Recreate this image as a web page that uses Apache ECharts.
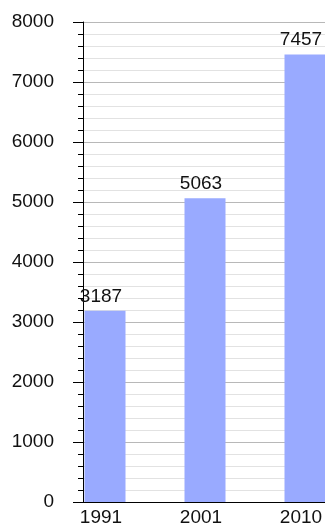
<!DOCTYPE html>
<html>
<head>
<meta charset="utf-8">
<script src="https://cdn.jsdelivr.net/npm/echarts@6/dist/echarts.min.js"></script>
<style>
  html, body { margin: 0; padding: 0; background: #fff; }
  #chart { width: 325px; height: 526px; }
</style>
</head>
<body>
<div id="chart"></div>
<script>
const years = ['1991', '2001', '2010'];
const population = [3187, 5063, 7457];

const font = 'Liberation Sans, Arial, sans-serif';
const chart = echarts.init(document.getElementById('chart'));

const option = {
  animation: false,
  grid: [
    // axis + gridlines
    { left: 83, right: 0, top: 22, bottom: 24, outerBoundsMode: 'none' },
    // bars (bands are 100px wide, shifted so the first bar starts at the axis)
    { left: 55, width: 300, top: 22, bottom: 24, outerBoundsMode: 'none' }
  ],
  xAxis: [
    {
      gridIndex: 0,
      type: 'value',
      min: 0,
      max: 1,
      axisLine: { show: true, lineStyle: { color: '#000', width: 1 } },
      axisTick: { show: false },
      axisLabel: { show: false },
      splitLine: { show: false }
    },
    {
      gridIndex: 1,
      type: 'category',
      data: years,
      axisLine: { show: false },
      axisTick: { show: false },
      axisLabel: { color: '#111', fontFamily: font, fontSize: 19, margin: 6, padding: [0, 8, 0, 0] }
    }
  ],
  yAxis: [
    {
      gridIndex: 0,
      type: 'value',
      min: 0,
      max: 8000,
      interval: 1000,
      axisLine: { show: true, lineStyle: { color: '#000', width: 1 } },
      axisTick: { show: true, length: 10, lineStyle: { color: '#000' } },
      minorTick: { show: true, splitNumber: 5, length: 5, lineStyle: { color: '#000' } },
      axisLabel: { color: '#111', fontFamily: font, fontSize: 19, margin: 29, formatter: v => String(v) },
      splitLine: { show: true, lineStyle: { color: '#b8b8b8', width: 1 } },
      minorSplitLine: { show: true, lineStyle: { color: '#e2e2e2', width: 1 } }
    },
    {
      gridIndex: 1,
      type: 'value',
      min: 0,
      max: 8000,
      show: false
    }
  ],
  series: [
    {
      type: 'bar',
      xAxisIndex: 1,
      yAxisIndex: 1,
      data: population,
      barWidth: 41,
      itemStyle: { color: '#99aaff' },
      label: {
        show: true,
        position: 'top',
        distance: 5,
        offset: [-4, 0],
        color: '#111',
        fontFamily: font,
        fontSize: 19,
        formatter: p => String(p.value)
      }
    }
  ]
};

chart.setOption(option);
</script>
</body>
</html>
